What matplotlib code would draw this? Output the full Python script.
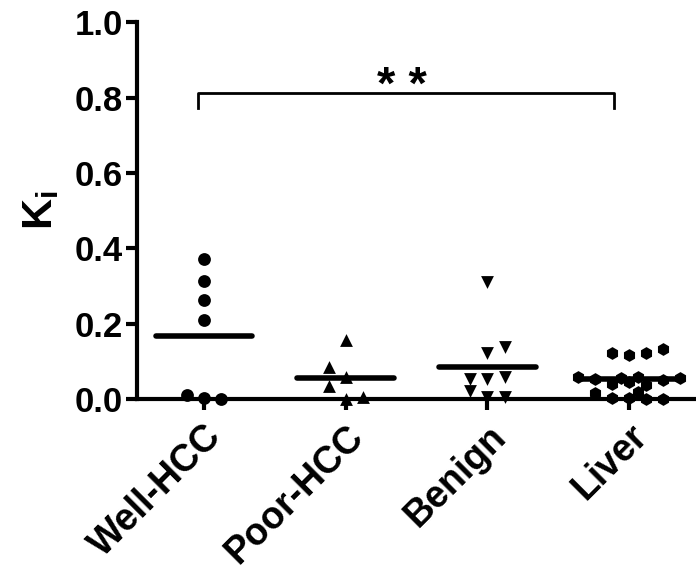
import matplotlib
matplotlib.use('Agg')
import matplotlib.pyplot as plt
import numpy as np

plt.rcParams['font.family'] = ['Liberation Sans', 'DejaVu Sans']
plt.rcParams['font.weight'] = 'bold'
plt.rcParams['mathtext.fontset'] = 'custom'
plt.rcParams['mathtext.bf'] = 'Liberation Sans:bold'
plt.rcParams['mathtext.rm'] = 'Liberation Sans:bold'

# data
groups = ['Well-HCC', 'Poor-HCC', 'Benign', 'Liver']
well_hcc = [0.371, 0.313, 0.263, 0.210, 0.010, 0.003, 0.000]
well_dx = [0, 0, 0, 0, -0.12, 0, 0.12]
poor_hcc = [0.157, 0.085, 0.058, 0.034, 0.000, 0.005]
poor_dx = [0, -0.12, 0, -0.12, 0, 0.12]
benign = [0.310, 0.122, 0.138, 0.054, 0.054, 0.058, 0.022, 0.004, 0.004]
benign_dx = [0, 0, 0.12, -0.12, 0, 0.12, -0.12, 0, 0.12]
liver = [0.122, 0.117, 0.122, 0.133,
         0.058, 0.052, 0.040, 0.056, 0.045, 0.058, 0.038, 0.050, 0.056,
         0.016, 0.003, 0.002, 0.019, 0.000, 0.000]
liver_dx = [-0.12, 0, 0.12, 0.24,
            -0.36, -0.24, -0.12, -0.06, 0, 0.06, 0.12, 0.24, 0.36,
            -0.24, -0.12, 0, 0.06, 0.12, 0.24]

series = [well_hcc, poor_hcc, benign, liver]
offsets = [well_dx, poor_dx, benign_dx, liver_dx]
markers = ['o', '^', 'v', 'h']

fig = plt.figure(figsize=(6.96, 5.69), dpi=100)
ax = fig.add_axes([0.197, 0.299, 0.803, 0.662])

for i, (vals, dx, m) in enumerate(zip(series, offsets, markers)):
    xpos = i + 1 + np.array(dx)
    ax.scatter(xpos, vals, marker=m, s=85, color='black', zorder=3, clip_on=False,
               linewidths=0)
    mean = np.mean(vals)
    ax.plot([i + 1 - 0.34, i + 1 + 0.34], [mean, mean], color='black', lw=4,
            solid_capstyle='round', zorder=4)

# significance bracket
bx0, bx1, by = 0.96, 3.89, 0.812
ax.plot([bx0, bx0, bx1, bx1], [by - 0.04, by, by, by - 0.04], color='black', lw=2)
ax.text((bx0 + bx1) / 2 - 0.03, 0.797, '* *', ha='center', va='baseline', fontsize=34,
        fontweight='bold')

ax.set_xlim(0.53, 4.47)
ax.set_ylim(0, 1.0)
ax.set_xticks(range(1, 5))
ax.set_xticklabels(groups, rotation=45, ha='right', rotation_mode='anchor',
                   fontsize=27, fontweight='bold')
ax.set_yticks([0, 0.2, 0.4, 0.6, 0.8, 1.0])
ax.set_yticklabels(['0.0', '0.2', '0.4', '0.6', '0.8', '1.0'], fontsize=25,
                   fontweight='bold')
ax.set_ylabel(r'$\mathbf{K_i}$', fontsize=31, labelpad=10)

for side in ['top', 'right']:
    ax.spines[side].set_visible(False)
for side in ['left', 'bottom']:
    ax.spines[side].set_linewidth(3)
ax.tick_params(axis='both', width=3, length=8, direction='out')
ax.tick_params(axis='y', pad=2)
ax.tick_params(axis='x', pad=6)

fig.savefig('out.png', dpi=100)
